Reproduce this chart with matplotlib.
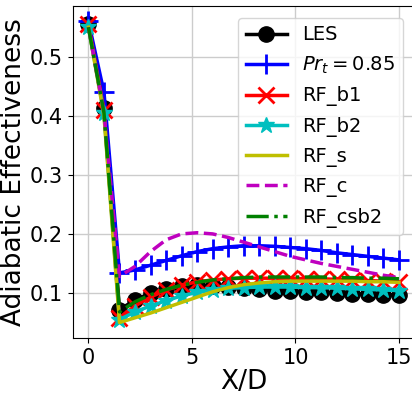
import numpy as np
import matplotlib
matplotlib.use("Agg")
import matplotlib.pyplot as plt

# streamwise stations X/D
xd = [0.0, 0.75, 1.5, 2.25, 3.0, 3.75, 4.5, 5.25, 6.0, 6.75, 7.5,
      8.25, 9.0, 9.75, 10.5, 11.25, 12.0, 12.75, 13.5, 14.25, 15.0]

les = [0.555, 0.413, 0.072, 0.088, 0.100, 0.107, 0.111, 0.113, 0.112, 0.110, 0.108,
       0.106, 0.104, 0.103, 0.102, 0.101, 0.100, 0.099, 0.098, 0.097, 0.097]
prt = [0.560, 0.440, 0.134, 0.139, 0.147, 0.155, 0.163, 0.170, 0.175, 0.178, 0.180,
       0.180, 0.179, 0.177, 0.175, 0.172, 0.168, 0.165, 0.162, 0.159, 0.156]
rf_b1 = [0.555, 0.410, 0.058, 0.078, 0.093, 0.105, 0.113, 0.119, 0.122, 0.124, 0.125,
         0.125, 0.125, 0.125, 0.124, 0.124, 0.123, 0.122, 0.121, 0.120, 0.119]
rf_b2 = [0.550, 0.405, 0.055, 0.068, 0.078, 0.087, 0.095, 0.101, 0.105, 0.108, 0.109,
         0.110, 0.110, 0.110, 0.109, 0.109, 0.108, 0.107, 0.106, 0.105, 0.104]
rf_s = [0.550, 0.400, 0.050, 0.058, 0.066, 0.075, 0.084, 0.093, 0.102, 0.109, 0.114,
        0.117, 0.119, 0.120, 0.120, 0.120, 0.120, 0.120, 0.119, 0.119, 0.118]
rf_c = [0.550, 0.405, 0.128, 0.145, 0.170, 0.190, 0.200, 0.202, 0.200, 0.194, 0.186,
        0.178, 0.170, 0.162, 0.156, 0.150, 0.145, 0.140, 0.135, 0.130, 0.126]
rf_csb2 = [0.550, 0.405, 0.068, 0.085, 0.097, 0.106, 0.113, 0.118, 0.122, 0.124, 0.126,
           0.127, 0.127, 0.127, 0.127, 0.127, 0.126, 0.126, 0.125, 0.125, 0.124]

fig = plt.figure(figsize=(4.12, 3.97), dpi=100)
ax = fig.add_axes([0.177, 0.149, 0.829, 0.836])

lw = 2.5
ax.plot(xd, les, 'k-o', lw=lw, ms=11, label='LES')
ax.plot(xd, prt, 'b-+', lw=lw, ms=15, mew=2, label=r'$Pr_t=0.85$')
ax.plot(xd, rf_b1, 'r-x', lw=lw, ms=12, mew=2, label='RF_b1')
ax.plot(xd, rf_b2, 'c-*', lw=lw, ms=12, label='RF_b2')
ax.plot(xd, rf_s, 'y-', lw=lw, label='RF_s')
ax.plot(xd, rf_c, 'm--', lw=lw, label='RF_c')
ax.plot(xd, rf_csb2, 'g-.', lw=lw, label='RF_csb2')

ax.set_xlim(-0.75, 15.75)
ax.set_ylim(0.024, 0.586)
ax.set_xticks([0, 5, 10, 15])
ax.set_yticks([0.1, 0.2, 0.3, 0.4, 0.5])
ax.tick_params(labelsize=15)
ax.grid(True, color='#cccccc', lw=1)
ax.set_xlabel('X/D', fontsize=19, labelpad=1)
ax.set_ylabel('Adiabatic Effectiveness', fontsize=19, labelpad=2)
ax.legend(loc='upper right', fontsize=14, handlelength=2.1,
          labelspacing=0.53, borderaxespad=0.6)

fig.savefig('out.png', dpi=100)
